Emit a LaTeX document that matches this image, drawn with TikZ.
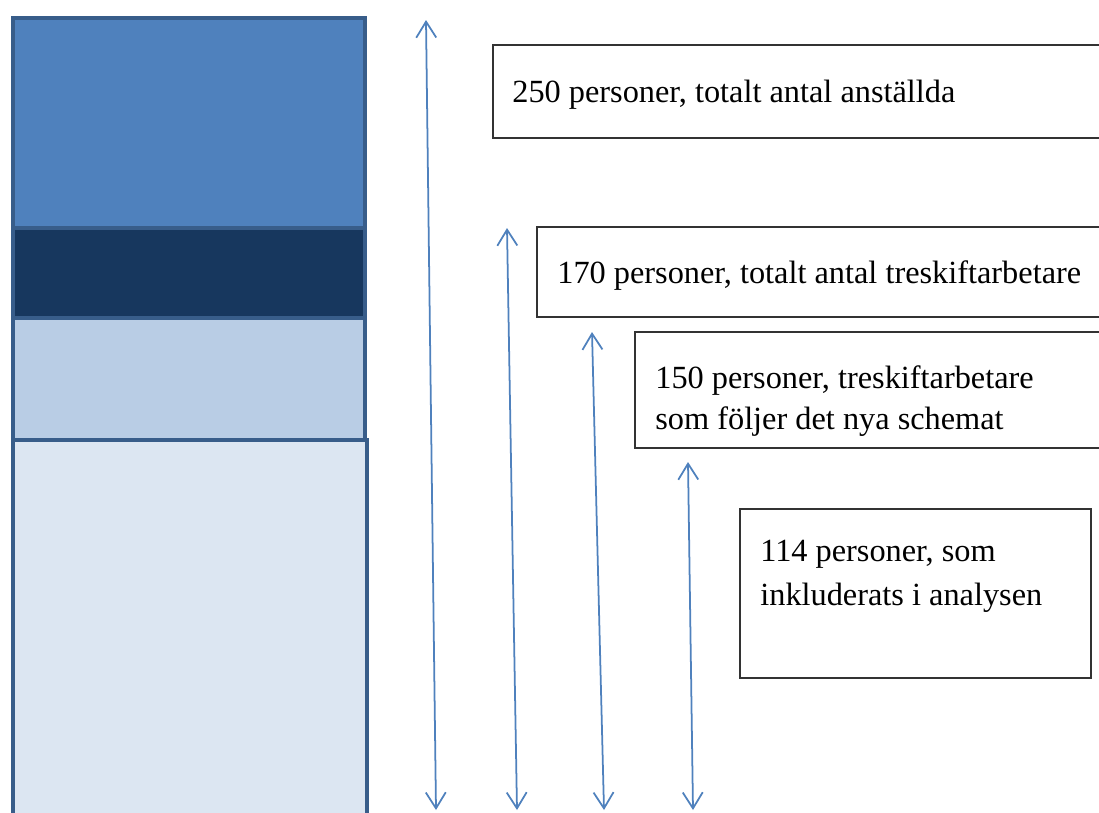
\documentclass[tikz,border=0pt]{standalone}
\usepackage{fontspec}
\setmainfont{Liberation Serif}
\usetikzlibrary{positioning,arrows.meta,calc}
\definecolor{colorrest}    {RGB}{ 79,129,189}
\definecolor{colorshift}   {RGB}{ 23, 55, 94}
\definecolor{colorschema}  {RGB}{185,205,229}
\definecolor{coloranalys}  {RGB}{220,230,242}
\definecolor{colorframe}   {RGB}{ 56, 93,138}
\definecolor{colorarrow}   {RGB}{ 79,129,189}
\definecolor{colortext}    {RGB}{  0,  0,  0}

\begin{document}
\begin{tikzpicture}[
    x=0.02cm, y=-0.02cm,
    bar/.style={draw=colorframe,line width=2.8pt},
    countbox/.style={draw=colortext!80,line width=0.9pt,anchor=north west,inner sep=0pt},
    boxtext/.style={text=colortext,anchor=west,align=left,inner sep=0pt,
        font={\fontsize{18.4}{23.5}\selectfont}},
    dim/.style={{Straight Barb[length=3.2mm,width=4mm]}-{Straight Barb[length=3.2mm,width=4mm]},
        draw=colorarrow,line width=1pt}
]
    \useasboundingbox (0,0) rectangle (1099,812);
    \clip (0,0) rectangle (1099,812);

    % Stacked bar
    \draw[bar,fill=coloranalys] (13,440) rectangle (367,840);
    \draw[bar,fill=colorschema] (13,318) rectangle (365,440);
    \draw[bar,fill=colorshift] (13,228) rectangle (365,318);
    \draw[bar,fill=colorrest] (13,18) rectangle (365,228);

    % Boxes
    \node[countbox,minimum width=12.6cm,minimum height=1.86cm] (box250) at (492,44) {};
    \node[boxtext] (txt250) at ([xshift=0.4cm,yshift=-0.07cm]box250.west) {250 personer, totalt antal anställda};

    \node[countbox,minimum width=11.7cm,minimum height=1.8cm] (box170) at (536,226) {};
    \node[boxtext] (txt170) at ([xshift=0.42cm,yshift=-0.08cm]box170.west) {170 personer, totalt antal treskiftarbetare};

    \node[countbox,minimum width=9.7cm,minimum height=2.32cm] (box150) at (634,331) {};
    \node[boxtext] (txt150) at ([xshift=0.42cm,yshift=-0.22cm]box150.west) {150 personer, treskiftarbetare\\som följer det nya schemat};

    \node[countbox,minimum width=7.02cm,minimum height=3.38cm] (box114) at (739,508) {};
    \node[boxtext] (txt114) at ([xshift=0.42cm,yshift=0.34cm]box114.west) {114 personer, som\\[2pt]inkluderats i analysen};

    % Arrow ends
    \coordinate (top250) at (426,20);
    \coordinate (bot250) at (436,810);
    \coordinate (top170) at (507,228);
    \coordinate (bot170) at (517,810);
    \coordinate (top150) at (592,332);
    \coordinate (bot150) at (604,810);
    \coordinate (top114) at (688,462);
    \coordinate (bot114) at (693,810);

    % Arrows
    \draw[dim] (top250) -- (bot250);
    \draw[dim] (top170) -- (bot170);
    \draw[dim] (top150) -- (bot150);
    \draw[dim] (top114) -- (bot114);

\end{tikzpicture}
\end{document}
